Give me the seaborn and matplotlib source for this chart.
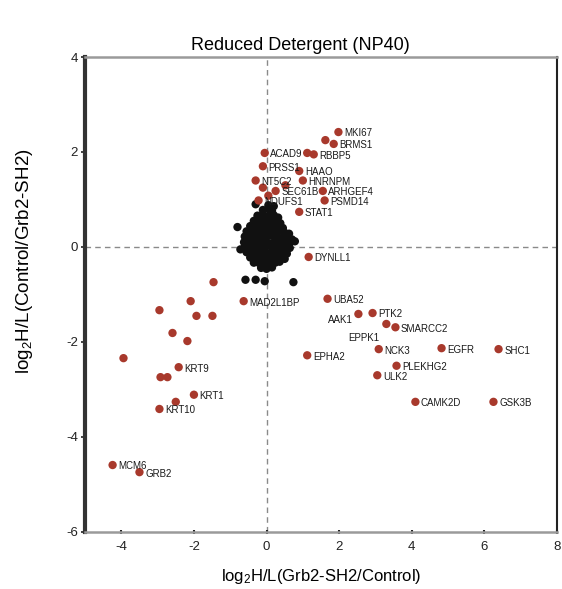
import matplotlib
matplotlib.use("Agg")
import matplotlib.pyplot as plt
import seaborn as sns
import pandas as pd

# Background proteins (not significant), log2 ratios
bg_x = [-0.1, 0.05, 0.15,
        -0.25, -0.1, 0.05, 0.2, 0.32,
        -0.35, -0.2, -0.05, 0.1, 0.25, 0.38,
        -0.45, -0.3, -0.15, 0.0, 0.15, 0.3, 0.45,
        -0.55, -0.4, -0.25, -0.1, 0.05, 0.2, 0.35, 0.5, 0.62,
        -0.6, -0.45, -0.3, -0.15, 0.0, 0.15, 0.3, 0.45, 0.6, 0.7,
        -0.62, -0.48, -0.34, -0.2, -0.06, 0.08, 0.22, 0.36, 0.5, 0.62,
        -0.6, -0.46, -0.32, -0.18, -0.04, 0.1, 0.24, 0.38, 0.52, 0.64,
        -0.55, -0.4, -0.26, -0.12, 0.02, 0.16, 0.3, 0.44, 0.56,
        -0.45, -0.3, -0.16, -0.02, 0.12, 0.26, 0.4, 0.5,
        -0.35, -0.2, -0.05, 0.1, 0.24, 0.36,
        -0.15, 0.0, 0.15,
        -0.8, -0.72, -0.58, -0.3, -0.05, 0.74, 0.78, -0.3, 0.05, 0.2]
bg_y = [0.78, 0.8, 0.76,
        0.66, 0.68, 0.65, 0.67, 0.62,
        0.55, 0.56, 0.54, 0.57, 0.53, 0.5,
        0.44, 0.45, 0.43, 0.46, 0.44, 0.42, 0.4,
        0.33, 0.34, 0.32, 0.35, 0.33, 0.31, 0.34, 0.3, 0.28,
        0.22, 0.21, 0.23, 0.2, 0.22, 0.24, 0.21, 0.2, 0.19, 0.16,
        0.1, 0.11, 0.09, 0.12, 0.1, 0.08, 0.11, 0.1, 0.09, 0.06,
        0.0, -0.01, 0.01, -0.02, 0.0, 0.02, -0.01, 0.0, -0.03, -0.02,
        -0.11, -0.12, -0.1, -0.11, -0.13, -0.1, -0.12, -0.11, -0.14,
        -0.22, -0.23, -0.21, -0.24, -0.22, -0.2, -0.23, -0.25,
        -0.33, -0.34, -0.32, -0.35, -0.33, -0.31,
        -0.44, -0.46, -0.43,
        0.42, -0.05, -0.69, -0.69, -0.72, -0.74, 0.12, 0.9, 0.88, 0.86]

# Significant proteins with gene labels ("" = unlabeled)
sig_x = [1.98, 1.85, 1.62, 1.3, 1.12, -0.05, -0.1, 0.9,
         -0.3, -0.1, 0.25, 0.52, 1.0, 1.6, 1.55, -0.22, 0.05, 0.9,
         1.16, 1.68, 2.92, 2.53, 3.3, 3.55, 3.09, 1.12, 4.82, 6.39,
         3.58, 3.05, 4.1, 6.25, -0.63,
         -2.42, -2.0, -2.95,
         -1.46, -2.09, -2.95, -1.93, -1.49, -2.59, -2.18, -3.94, -2.92, -2.73, -2.5,
         -4.24, -3.5]
sig_y = [2.42, 2.17, 2.25, 1.95, 1.98, 1.98, 1.7, 1.6,
         1.4, 1.25, 1.18, 1.3, 1.4, 0.98, 1.18, 0.98, 1.08, 0.74,
         -0.21, -1.09, -1.39, -1.41, -1.62, -1.69, -2.15, -2.28, -2.13, -2.15,
         -2.5, -2.7, -3.26, -3.26, -1.14,
         -2.53, -3.11, -3.41,
         -0.74, -1.14, -1.33, -1.45, -1.45, -1.81, -1.98, -2.34, -2.74, -2.74, -3.26,
         -4.59, -4.74]
sig_genes = ["MKI67", "BRMS1", "", "RBBP5", "", "ACAD9", "PRSS1", "HAAO",
             "NT5C2", "", "SEC61B", "", "HNRNPM", "PSMD14", "ARHGEF4", "NDUFS1", "", "STAT1",
             "DYNLL1", "UBA52", "PTK2", "AAK1", "EPPK1", "SMARCC2", "NCK3", "EPHA2", "EGFR", "SHC1",
             "PLEKHG2", "ULK2", "CAMK2D", "GSK3B", "MAD2L1BP",
             "KRT9", "KRT1", "KRT10",
             "", "", "", "", "", "", "", "", "", "", "",
             "MCM6", "GRB2"]

df = pd.DataFrame({
    "x": bg_x + sig_x,
    "y": bg_y + sig_y,
    "group": ["bg"] * len(bg_x) + ["sig"] * len(sig_x),
})

plt.rcParams["font.family"] = ["Liberation Sans", "DejaVu Sans"]
plt.rcParams["mathtext.default"] = "regular"
plt.rcParams["axes.unicode_minus"] = False

fig = plt.figure(figsize=(5.62, 5.89), dpi=100)
ax = fig.add_axes([85 / 562, 1 - 532 / 589, (557 - 85) / 562, (532 - 57) / 589])

ax.axhline(0, color="#8a8a8a", lw=1.0, ls=(0, (4, 3)), zorder=1)
ax.axvline(0, color="#8a8a8a", lw=1.0, ls=(0, (4, 3)), zorder=1)

sns.scatterplot(data=df, x="x", y="y", hue="group",
                palette={"bg": "#111111", "sig": "#a8392c"},
                s=36, edgecolor="none", legend=False, ax=ax, zorder=3)

# Gene labels: default to the right of the point
special = {"AAK1": dict(xytext=(-4, -4), ha="right"),
           "EPPK1": dict(xytext=(-5, -10), ha="right")}
for gx, gy, g in zip(sig_x, sig_y, sig_genes):
    if not g:
        continue
    kw = special.get(g, dict(xytext=(4, -1), ha="left"))
    ax.annotate(g, (gx, gy), textcoords="offset points", va="center",
                fontsize=7.0, color="#1a1a1a", zorder=4, **kw)

ax.set_xlim(-5, 8)
ax.set_ylim(-6, 4)
ax.set_xticks([-4, -2, 0, 2, 4, 6, 8])
ax.set_yticks([-6, -4, -2, 0, 2, 4])

for side in ("top", "bottom"):
    ax.spines[side].set_color("#9a9a9a")
    ax.spines[side].set_linewidth(1.8)
ax.spines["left"].set_color("#333333")
ax.spines["left"].set_linewidth(3)
ax.spines["right"].set_color("#222222")
ax.spines["right"].set_linewidth(1.5)

ax.tick_params(axis="x", length=3, width=1.5, direction="inout", labelsize=9.5, pad=5, colors="#222222")
ax.tick_params(axis="y", length=3, width=1.2, direction="out", labelsize=9.5, pad=2, colors="#222222")

ax.set_xlabel(r"log$_2$H/L(Grb2-SH2/Control)", fontsize=12, labelpad=10)
ax.set_ylabel(r"log$_2$H/L(Control/Grb2-SH2)", fontsize=13.5, labelpad=8)
ax.yaxis.set_label_coords(-0.105, 0.57)

fig.text(300 / 562, 1 - 45 / 589, "Reduced Detergent (NP40)", ha="center", va="center", fontsize=13)

fig.savefig("out.png", dpi=100)
